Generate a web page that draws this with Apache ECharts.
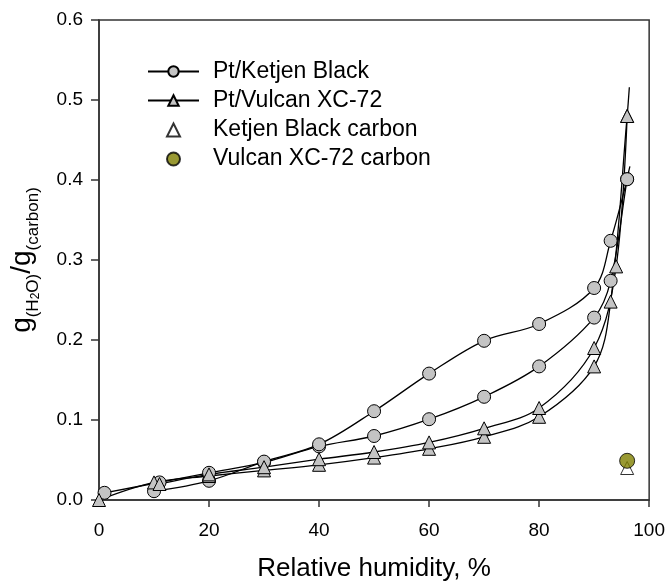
<!DOCTYPE html>
<html>
<head>
<meta charset="utf-8">
<script src="https://cdn.jsdelivr.net/npm/echarts@6/dist/echarts.min.js"></script>
<style>
html,body{margin:0;padding:0;background:#fff;}
#chart{width:668px;height:587px;}
</style>
</head>
<body>
<div id="chart"></div>
<script>
// ---- data ----
var xTicks = [0, 20, 40, 60, 80, 100];
var yTicks = [0.0, 0.1, 0.2, 0.3, 0.4, 0.5, 0.6];

// Pt/Ketjen Black – lower branch
var kbLowX = [1, 11, 20, 30, 40, 50, 60, 70, 80, 90, 93, 96, 96.5];
var kbLowY = [0.009, 0.022, 0.034, 0.047, 0.067, 0.080, 0.101, 0.129, 0.167, 0.228, 0.274, 0.401, 0.417];
// Pt/Ketjen Black – upper branch
var kbUpX = [96, 93, 90, 80, 70, 60, 50, 40, 30, 20, 10];
var kbUpY = [0.401, 0.324, 0.265, 0.220, 0.199, 0.158, 0.111, 0.0696, 0.048, 0.024, 0.011];

// Pt/Vulcan XC-72 – lower branch
var vLowX = [0, 10, 20, 30, 40, 50, 60, 70, 80, 90, 93, 96, 96.4];
var vLowY = [0.000, 0.022, 0.030, 0.037, 0.044, 0.053, 0.064, 0.079, 0.104, 0.167, 0.248, 0.480, 0.516];
// Pt/Vulcan XC-72 – upper branch
var vUpX = [96, 94, 90, 80, 70, 60, 50, 40, 30, 20, 11];
var vUpY = [0.480, 0.292, 0.190, 0.115, 0.0896, 0.072, 0.060, 0.051, 0.041, 0.032, 0.020];

// bare carbons
var kbCarbonX = [96];
var kbCarbonY = [0.040];
var vCarbonX = [96];
var vCarbonY = [0.049];

// trailing points drawn as line only (no marker)
var kbLowTail = 1;
var vLowTail = 1;

function pts(xs, ys, tail) {
  return xs.map(function (x, i) {
    var p = {value: [x, ys[i]]};
    if (tail && i >= xs.length - tail) p.symbol = 'none';
    return p;
  });
}

var FONT = '"Liberation Sans", Arial, sans-serif';
var grey = '#c4c4c4';
var lineStyle = {color: '#000', width: 1.3};
var smooth = 0.35;

function branch(name, xs, ys, tail, symbol, size) {
  return {
    name: name, type: 'line', data: pts(xs, ys, tail), smooth: smooth,
    symbol: symbol, symbolSize: size, showAllSymbol: true,
    lineStyle: lineStyle,
    itemStyle: {color: grey, borderColor: '#000', borderWidth: 1},
    emphasis: {disabled: true}, animation: false
  };
}

var legendText = {fontFamily: FONT, fontSize: 23, color: '#000'};

var chart = echarts.init(document.getElementById('chart'), null, {renderer: 'canvas'});
chart.setOption({
  animation: false,
  backgroundColor: '#fff',
  grid: {left: 99, right: 18.5, top: 20, bottom: 85.5, show: true,
         borderColor: '#333', borderWidth: 1.5, backgroundColor: 'transparent'},
  legend: [{
    orient: 'vertical', left: 142, top: 55,
    itemWidth: 51, itemHeight: 13, itemGap: 6,
    textStyle: Object.assign({padding: [0, 0, 0, 9]}, legendText),
    data: ['Pt/Ketjen Black', 'Pt/Vulcan XC-72'],
    selectedMode: false
  }, {
    orient: 'vertical', left: 161, top: 113.5,
    itemWidth: 13, itemHeight: 13, itemGap: 6,
    textStyle: Object.assign({padding: [0, 0, 0, 28]}, legendText),
    data: ['Ketjen Black carbon', 'Vulcan XC-72 carbon'],
    selectedMode: false
  }],
  xAxis: {
    type: 'value', min: xTicks[0], max: xTicks[xTicks.length - 1], interval: 20,
    name: 'Relative humidity, %', nameLocation: 'middle', nameGap: 56,
    nameTextStyle: {fontFamily: FONT, fontSize: 26, color: '#000'},
    axisLine: {lineStyle: {color: '#333', width: 1.5}},
    axisTick: {inside: false, length: 7, lineStyle: {color: '#333', width: 1.5}},
    axisLabel: {fontFamily: FONT, fontSize: 19, color: '#000', margin: 21},
    splitLine: {show: false}
  },
  yAxis: {
    type: 'value', min: yTicks[0], max: yTicks[yTicks.length - 1], interval: 0.1,
    name: '{g|g}{s|(H}{ss|2}{s|O)}{g|/g}{s|(carbon)}',
    nameLocation: 'middle', nameGap: 57,
    nameTextStyle: {
      fontFamily: FONT, color: '#000',
      rich: {
        g: {fontFamily: FONT, fontSize: 28, lineHeight: 40, verticalAlign: 'middle', color: '#000'},
        s: {fontFamily: FONT, fontSize: 17, lineHeight: 18, verticalAlign: 'bottom', color: '#000'},
        ss: {fontFamily: FONT, fontSize: 12, lineHeight: 8, verticalAlign: 'bottom', color: '#000'}
      }
    },
    axisLine: {lineStyle: {color: '#333', width: 1.5}},
    axisTick: {inside: false, length: 8, lineStyle: {color: '#333', width: 1.5}},
    axisLabel: {fontFamily: FONT, fontSize: 19, color: '#000', margin: 16,
                formatter: function (v) { return v.toFixed(1); }},
    splitLine: {show: false}
  },
  series: [
    branch('Pt/Ketjen Black', kbLowX, kbLowY, kbLowTail, 'circle', 13),
    branch('Pt/Ketjen Black', kbUpX, kbUpY, 0, 'circle', 13),
    branch('Pt/Vulcan XC-72', vLowX, vLowY, vLowTail, 'triangle', 13),
    branch('Pt/Vulcan XC-72', vUpX, vUpY, 0, 'triangle', 13),
    {name: 'Ketjen Black carbon', type: 'scatter', symbol: 'triangle', symbolSize: 13,
     data: kbCarbonX.map(function (x, i) { return [x, kbCarbonY[i]]; }),
     itemStyle: {color: '#fff', borderColor: '#000', borderWidth: 1}, z: 3},
    {name: 'Vulcan XC-72 carbon', type: 'scatter', symbol: 'circle', symbolSize: 15,
     data: vCarbonX.map(function (x, i) { return [x, vCarbonY[i]]; }),
     itemStyle: {color: '#808000', borderColor: '#000', borderWidth: 1}, z: 4}
  ]
});
</script>
</body>
</html>
